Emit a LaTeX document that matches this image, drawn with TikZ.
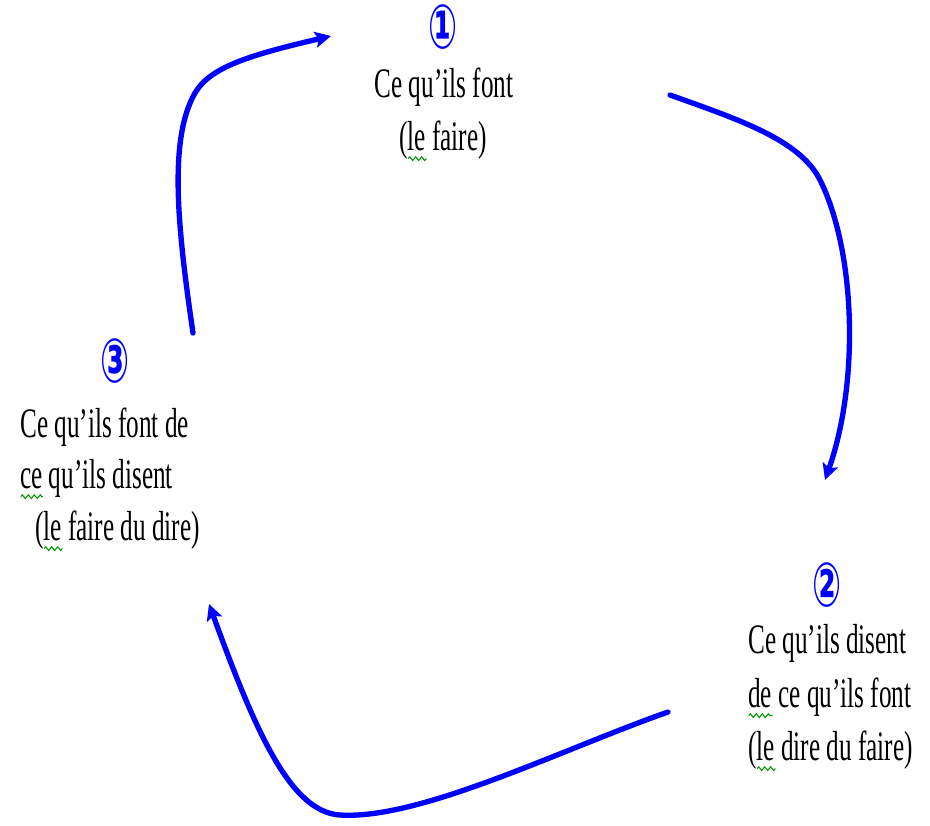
\documentclass[tikz,border=0pt]{standalone}
\usepackage{fontspec}
\setmainfont{Liberation Serif}
\newfontfamily\labfont[FakeStretch=0.6]{Liberation Serif}
\newfontfamily\numfont[FakeStretch=0.56]{DejaVu Sans}
\usetikzlibrary{arrows.meta,decorations.pathmorphing}
\definecolor{arrowblue}{RGB}{0,0,255}
\definecolor{squiggreen}{RGB}{0,150,0}
\newcommand\spellsq[1]{\setbox0=\hbox{#1}\leavevmode\rlap{\raisebox{-6.5pt}{\tikz[baseline=0pt]\draw[squiggreen,line width=0.8pt,decorate,decoration={zigzag,amplitude=1.4pt,segment length=4.5pt}] (0pt,0pt)--(\wd0,0pt);}}\box0\relax}
\tikzset{
  lab/.style={font=\labfont\fontsize{31.5}{38}\selectfont, inner sep=0pt, text=black},
  num/.style={font=\numfont\bfseries\fontsize{46}{50}\selectfont, inner sep=0pt, text=arrowblue},
  flow/.style={draw=arrowblue, line width=4pt, line cap=round,
    -{Stealth[length=12pt,width=12pt,inset=2.5pt]}}
}
\begin{document}
\begin{tikzpicture}[x=0.75pt,y=-0.75pt]
\useasboundingbox (0,0) rectangle (930,825);
% node 1
\node[num] (c1) at (443,27) {①};
\node[lab, anchor=base] (t1a) at (444,97) {Ce qu’ils font};
\node[lab, anchor=base] (t1b) at (443,150) {(\spellsq{le} faire)};
% node 2
\node[num] (c2) at (827,585) {②};
\node[lab, anchor=base west] (t2a) at (748,653) {Ce qu’ils disent};
\node[lab, anchor=base west] (t2b) at (748,707) {\spellsq{de} ce qu’ils font};
\node[lab, anchor=base west] (t2c) at (748,760) {(\spellsq{le} dire du faire)};
% node 3
\node[num] (c3) at (115,361) {③};
\node[lab, anchor=base west] (t3a) at (20,437) {Ce qu’ils font de};
\node[lab, anchor=base west] (t3b) at (20,488) {\spellsq{ce} qu’ils disent};
\node[lab, anchor=base west] (t3c) at (35,540) {(\spellsq{le} faire du dire)};
% arrow end points
\coordinate (a1s) at (193,333);
\coordinate (a1e) at (331,36);
\coordinate (a2s) at (670,95);
\coordinate (a2e) at (825,480);
\coordinate (a3s) at (668,712);
\coordinate (a3e) at (209,604);
\draw[flow] (a1s) .. controls (178,230) and (168,140) .. (195,93) .. controls (210,67) and (250,55) .. (a1e);
\draw[flow] (a2s) .. controls (740,120) and (800,140) .. (820,180) .. controls (855,250) and (860,380) .. (a2e);
\draw[flow] (a3s) .. controls (560,750) and (420,820) .. (340,815) .. controls (290,812) and (255,730) .. (a3e);
\end{tikzpicture}
\end{document}
